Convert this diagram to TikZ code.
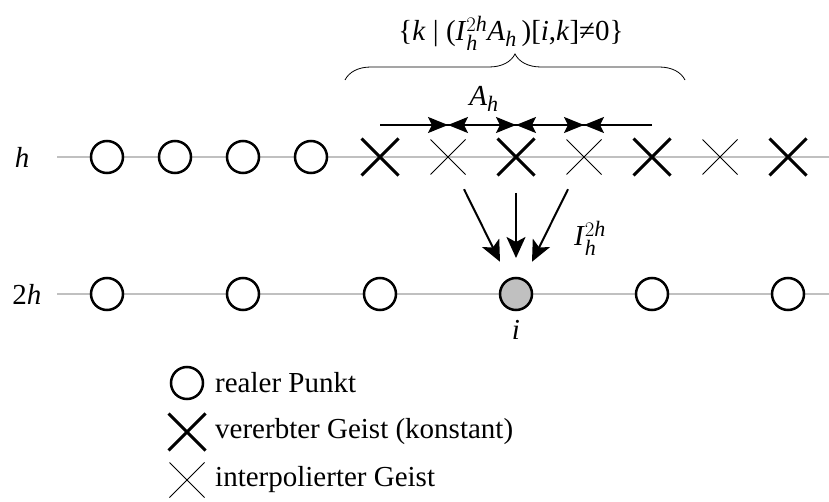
\documentclass[tikz,border=0pt]{standalone}
\usepackage{amsmath}
\usepackage{fontspec}
\setmainfont{Liberation Serif}
\DeclareMathSizes{29}{29}{22}{16}
\usetikzlibrary{arrows.meta,shapes.misc,decorations.pathreplacing}
\definecolor{gridgray}{HTML}{C0C0C0}
\definecolor{fillgray}{HTML}{C0C0C0}
\begin{document}
\begin{tikzpicture}[x=1pt,y=-1pt,
  font=\fontsize{29}{33}\selectfont,
  gridline/.style={draw=gridgray,line width=2.5pt},
  realpt/.style={circle,draw,line width=2.5pt,minimum size=32pt,inner sep=0pt,fill=white},
  thickx/.style={cross out,draw,line width=3pt,minimum size=34pt,inner sep=0pt},
  thinx/.style={cross out,draw,line width=1pt,minimum size=34pt,inner sep=0pt},
  aarr/.style={line width=2pt,-{Stealth[length=20pt,width=16pt,inset=4pt]}},
  iarr/.style={line width=2pt,-{Stealth[length=21pt,width=19pt,inset=5pt]},shorten <=36pt,shorten >=36pt},
  lbl/.style={inner sep=0pt}
]
\useasboundingbox (0,0) rectangle (829,502);
% level labels
\node[lbl] (lh) at (22,157) {\textit{h}};
\node[lbl] (l2h) at (27,294) {2\textit{h}};
% grid lines
\coordinate (gh0) at (57,157);
\coordinate (gh1) at (829,157);
\coordinate (g2h0) at (57,294);
\coordinate (g2h1) at (829,294);
\draw[gridline] (gh0) -- (gh1);
\draw[gridline] (g2h0) -- (g2h1);
% fine level
\node[realpt] (h1) at (107,157) {};
\node[realpt] (h2) at (175,157) {};
\node[realpt] (h3) at (243,157) {};
\node[realpt] (h4) at (311,157) {};
\node[thickx] (x5) at (380,157) {};
\node[thinx]  (x6) at (448,157) {};
\node[thickx] (x7) at (516,157) {};
\node[thinx]  (x8) at (584,157) {};
\node[thickx] (x9) at (652,157) {};
\node[thinx]  (x10) at (720,157) {};
\node[thickx] (x11) at (788,157) {};
% coarse level
\node[realpt] (c1) at (107,294) {};
\node[realpt] (c2) at (243,294) {};
\node[realpt] (c3) at (380,294) {};
\node[realpt,fill=fillgray] (i) at (516,294) {};
\node[realpt] (c5) at (652,294) {};
\node[realpt] (c6) at (788,294) {};
\node[lbl] (il) at (516,330) {\textit{i}};
% A_h stencil arrows
\coordinate (a0) at (380,125);
\coordinate (a1) at (448,125);
\coordinate (a2) at (516,125);
\coordinate (a3) at (584,125);
\coordinate (a4) at (652,125);
\draw[line width=2pt] (a0) -- (a4);
\draw[aarr] (a0) -- (a1);
\draw[aarr] (a2) -- (a1);
\draw[aarr] (a1) -- (a2);
\draw[aarr] (a3) -- (a2);
\draw[aarr] (a2) -- (a3);
\draw[aarr] (a4) -- (a3);
\node[lbl] (ah) at (484,99) {\textit{A}$_{\textit{h}}$};
% brace
\coordinate (b0) at (345,80);
\coordinate (b1) at (685,80);
\draw[line width=0.8pt,decorate,decoration={brace,amplitude=26pt}] (b0) -- (b1);
\node[lbl] (set) at (511,33) {\{\textit{k} | (\textit{I}$^{2\textit{h}}_{\textit{h}}$\textit{A}$_{\textit{h}}$\,)[\textit{i},\textit{k}]≠0\}};
% interpolation arrows
\draw[iarr] (x6.center) -- (i.center);
\draw[iarr] (x7.center) -- (i.center);
\draw[iarr] (x8.center) -- (i.center);
\node[lbl] (ih) at (590,238) {\textit{I}$^{2\textit{h}}_{\textit{h}}$};
% legend
\node[realpt] (lg1) at (187,383) {};
\node[thickx] (lg2) at (187,432) {};
\node[thinx] (lg3) at (187,480) {};
\node[lbl,anchor=west] (lt1) at (215,383) {realer Punkt};
\node[lbl,anchor=west] (lt2) at (215,432) {vererbter Geist (konstant)};
\node[lbl,anchor=west] (lt3) at (215,480) {interpolierter Geist};
\end{tikzpicture}
\end{document}
